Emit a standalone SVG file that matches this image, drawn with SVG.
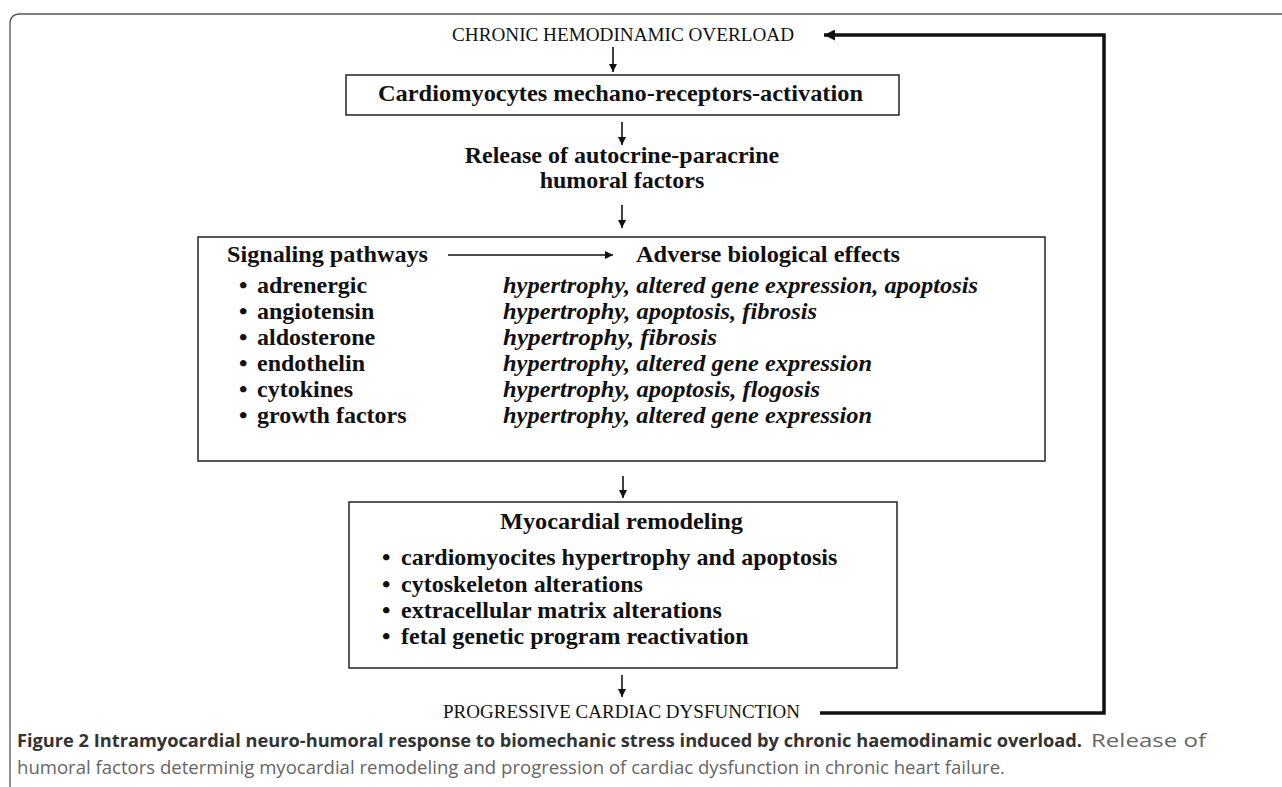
<svg xmlns="http://www.w3.org/2000/svg" width="1282" height="787" viewBox="0 0 1282 787">
<style>
.frame{fill:none;stroke:#555;stroke-width:1.3}
.box{fill:#fff;stroke:#222;stroke-width:1.5}
.cap{font-family:"Liberation Serif",serif;font-size:18.5px;fill:#111}
.b{font-family:"Liberation Serif",serif;font-weight:bold;font-size:24px;fill:#111}
.i{font-family:"Liberation Serif",serif;font-weight:bold;font-style:italic;font-size:24px;fill:#111}
.conn{fill:none;stroke:#111;stroke-width:1.6}
.fb{fill:none;stroke:#111;stroke-width:3.5}
.cb{font-family:"Open Sans",sans-serif;font-weight:bold;font-size:17.5px;fill:#333}
.cr{font-family:"Open Sans",sans-serif;font-size:17.5px;fill:#666}
</style>
<defs>
<marker id="ah" viewBox="0 0 10 10" refX="10" refY="5" markerWidth="9" markerHeight="8" markerUnits="userSpaceOnUse" orient="auto"><path d="M0,0 L10,5 L0,10 z" fill="#111"/></marker>
<marker id="ahb" viewBox="0 0 10 10" refX="10" refY="5" markerWidth="14" markerHeight="11" markerUnits="userSpaceOnUse" orient="auto"><path d="M0,0 L10,5 L0,10 z" fill="#111"/></marker>
</defs>
<rect width="1282" height="787" fill="#fff"/>
<path class="frame" d="M10,787 L10,24 Q10,14 20,14 L1282,14"/>

<g id="node-overload">
<text class="cap" x="452" y="41" textLength="342" lengthAdjust="spacingAndGlyphs">CHRONIC HEMODINAMIC OVERLOAD</text>
</g>
<g id="node-mechano">
<rect class="box" x="346" y="75" width="553" height="40"/>
<text class="b" x="378" y="101" textLength="485" lengthAdjust="spacingAndGlyphs">Cardiomyocytes mechano-receptors-activation</text>
</g>
<g id="node-release">
<text class="b" x="622" y="163" text-anchor="middle">Release of autocrine-paracrine</text>
<text class="b" x="622" y="188" text-anchor="middle">humoral factors</text>
</g>
<g id="node-signaling">
<rect class="box" x="198" y="237" width="847" height="224"/>
<text class="b" x="227" y="262" textLength="201" lengthAdjust="spacingAndGlyphs">Signaling pathways</text>
<text class="b" x="636" y="262" textLength="264" lengthAdjust="spacingAndGlyphs">Adverse biological effects</text>
<g class="b">
<text x="239" y="293">•</text><text x="257" y="293">adrenergic</text>
<text x="239" y="319">•</text><text x="257" y="319">angiotensin</text>
<text x="239" y="345">•</text><text x="257" y="345">aldosterone</text>
<text x="239" y="371">•</text><text x="257" y="371">endothelin</text>
<text x="239" y="397">•</text><text x="257" y="397">cytokines</text>
<text x="239" y="423">•</text><text x="257" y="423">growth factors</text>
</g>
<g class="i">
<text x="503" y="293" textLength="475" lengthAdjust="spacingAndGlyphs">hypertrophy, altered gene expression, apoptosis</text>
<text x="503" y="319" textLength="314" lengthAdjust="spacingAndGlyphs">hypertrophy, apoptosis, fibrosis</text>
<text x="503" y="345" textLength="214" lengthAdjust="spacingAndGlyphs">hypertrophy,  fibrosis</text>
<text x="503" y="371" textLength="369" lengthAdjust="spacingAndGlyphs">hypertrophy, altered gene expression</text>
<text x="503" y="397" textLength="317" lengthAdjust="spacingAndGlyphs">hypertrophy, apoptosis, flogosis</text>
<text x="503" y="423" textLength="369" lengthAdjust="spacingAndGlyphs">hypertrophy, altered gene expression</text>
</g>
</g>
<g id="node-remodeling">
<rect class="box" x="349" y="502" width="548" height="166"/>
<text class="b" x="500" y="529" textLength="243" lengthAdjust="spacingAndGlyphs">Myocardial remodeling</text>
<g class="b">
<text x="382" y="565">•</text><text x="401" y="565">cardiomyocites hypertrophy and apoptosis</text>
<text x="382" y="592">•</text><text x="401" y="592">cytoskeleton alterations</text>
<text x="382" y="618">•</text><text x="401" y="618">extracellular matrix alterations</text>
<text x="382" y="644">•</text><text x="401" y="644">fetal genetic program reactivation</text>
</g>
</g>
<g id="node-dysfunction">
<text class="cap" x="443" y="718" textLength="357" lengthAdjust="spacingAndGlyphs">PROGRESSIVE CARDIAC DYSFUNCTION</text>
</g>

<g id="connectors">
<line class="conn" x1="613" y1="47" x2="613" y2="72" marker-end="url(#ah)"/>
<line class="conn" x1="622" y1="122" x2="622" y2="145" marker-end="url(#ah)"/>
<line class="conn" x1="622" y1="205" x2="622" y2="228" marker-end="url(#ah)"/>
<line class="conn" x1="448" y1="255" x2="613" y2="255" marker-end="url(#ah)"/>
<line class="conn" x1="623" y1="476" x2="623" y2="498" marker-end="url(#ah)"/>
<line class="conn" x1="622" y1="675" x2="622" y2="697" marker-end="url(#ah)"/>
<path class="fb" d="M820,713 L1104,713 L1104,35 L824,35" marker-end="url(#ahb)"/>
</g>

<g id="caption">
<text class="cb" x="17" y="747" textLength="1065" lengthAdjust="spacingAndGlyphs">Figure 2 Intramyocardial neuro-humoral response to biomechanic stress induced by chronic haemodinamic overload.</text>
<text class="cr" x="1091" y="747" textLength="115" lengthAdjust="spacingAndGlyphs">Release of</text>
<text class="cr" x="17" y="774" textLength="988" lengthAdjust="spacingAndGlyphs">humoral factors determinig myocardial remodeling and progression of cardiac dysfunction in chronic heart failure.</text>
</g>
</svg>
